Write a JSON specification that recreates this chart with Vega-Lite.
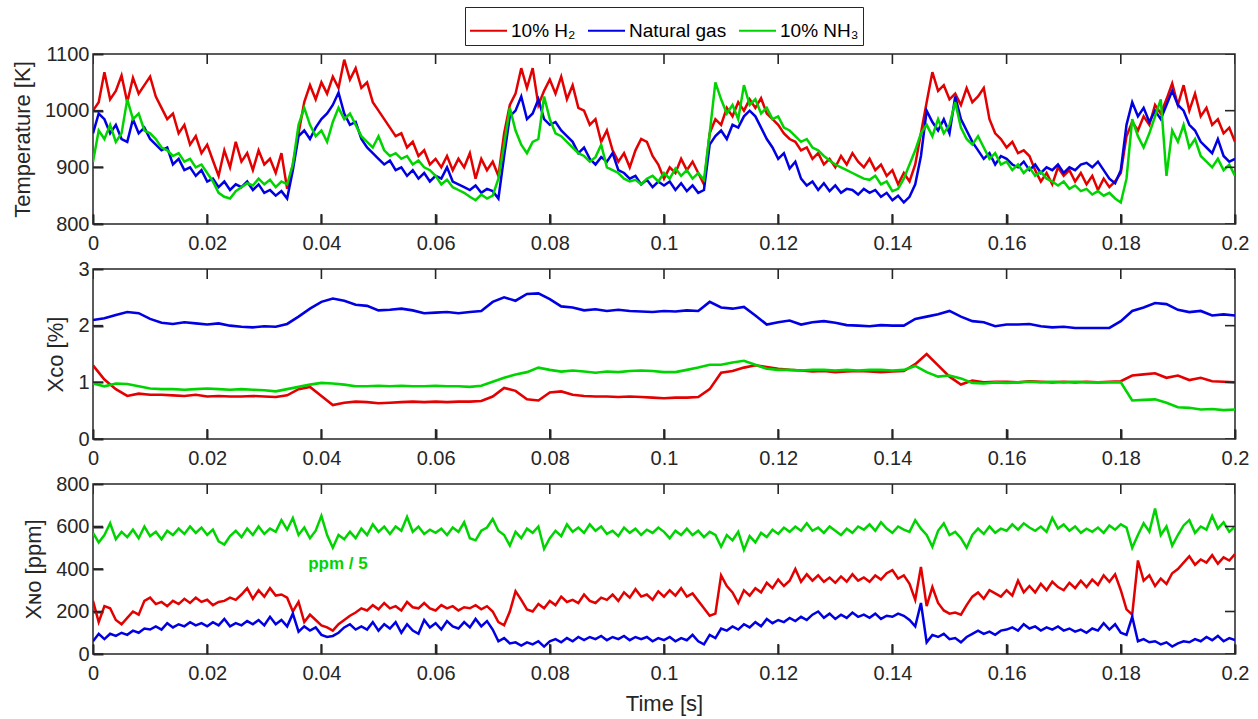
{
"$schema":"https://vega.github.io/schema/vega-lite/v6.json",
"padding":{"left":10,"top":6,"right":10,"bottom":5},
"spacing":4,
"config":{
 "font":"Liberation Sans",
 "view":{"stroke":"#262626","strokeWidth":1.5},
 "axis":{"zindex":1,"domain":false,"grid":false,"ticks":true,"tickColor":"#262626","tickSize":10,"tickWidth":2,"tickOpacity":1,"labelColor":"#262626","labelFontSize":20,"labelFont":"Liberation Sans","titleColor":"#262626","titleFontSize":22,"titleFontWeight":"normal","titleFont":"Liberation Sans","labelFlush":false,"labelBound":false,"labelOverlap":false},
 "legend":{"labelFont":"Liberation Sans","labelFontSize":19,"labelColor":"#000000"}
},
"datasets":{
"xt":[{"t":0},{"t":0.02},{"t":0.04},{"t":0.06},{"t":0.08},{"t":0.1},{"t":0.12},{"t":0.14},{"t":0.16},{"t":0.18},{"t":0.2}],
"yt1":[{"v":800},{"v":900},{"v":1000},{"v":1100}],
"yt2":[{"v":0},{"v":1},{"v":2},{"v":3}],
"yt3":[{"v":0},{"v":200},{"v":400},{"v":600},{"v":800}],
"temp":[
{"t":0,"h":1000,"n":960,"a":910},{"t":0.001,"h":1015,"n":995,"a":965},{"t":0.002,"h":1068,"n":985,"a":950},{"t":0.003,"h":1020,"n":960,"a":975},{"t":0.004,"h":1035,"n":975,"a":945},{"t":0.005,"h":1062,"n":950,"a":960},{"t":0.006,"h":1015,"n":945,"a":1020},{"t":0.007,"h":1058,"n":985,"a":985},{"t":0.008,"h":1030,"n":960,"a":995},{"t":0.009,"h":1045,"n":970,"a":965},
{"t":0.01,"h":1060,"n":950,"a":960},{"t":0.011,"h":1025,"n":940,"a":950},{"t":0.012,"h":1005,"n":930,"a":935},{"t":0.013,"h":985,"n":935,"a":930},{"t":0.014,"h":995,"n":905,"a":920},{"t":0.015,"h":960,"n":915,"a":925},{"t":0.016,"h":975,"n":895,"a":910},{"t":0.017,"h":940,"n":900,"a":915},{"t":0.018,"h":955,"n":885,"a":900},{"t":0.019,"h":925,"n":895,"a":905},
{"t":0.02,"h":940,"n":875,"a":890},{"t":0.021,"h":912,"n":880,"a":875},{"t":0.022,"h":885,"n":865,"a":855},{"t":0.023,"h":930,"n":875,"a":848},{"t":0.024,"h":900,"n":860,"a":845},{"t":0.025,"h":945,"n":870,"a":858},{"t":0.026,"h":910,"n":865,"a":865},{"t":0.027,"h":925,"n":875,"a":872},{"t":0.028,"h":895,"n":860,"a":868},{"t":0.029,"h":930,"n":870,"a":880},
{"t":0.03,"h":905,"n":855,"a":870},{"t":0.031,"h":915,"n":860,"a":878},{"t":0.032,"h":890,"n":850,"a":865},{"t":0.033,"h":925,"n":858,"a":875},{"t":0.034,"h":862,"n":845,"a":870},{"t":0.035,"h":905,"n":895,"a":905},{"t":0.036,"h":960,"n":955,"a":975},{"t":0.037,"h":1015,"n":965,"a":1005},{"t":0.038,"h":1045,"n":950,"a":975},{"t":0.039,"h":1020,"n":970,"a":955},
{"t":0.04,"h":1050,"n":985,"a":965},{"t":0.041,"h":1030,"n":995,"a":945},{"t":0.042,"h":1060,"n":1010,"a":980},{"t":0.043,"h":1040,"n":1032,"a":1005},{"t":0.044,"h":1090,"n":995,"a":985},{"t":0.045,"h":1055,"n":975,"a":995},{"t":0.046,"h":1075,"n":980,"a":975},{"t":0.047,"h":1040,"n":950,"a":955},{"t":0.048,"h":1050,"n":935,"a":945},{"t":0.049,"h":1015,"n":925,"a":935},
{"t":0.05,"h":1000,"n":915,"a":955},{"t":0.051,"h":985,"n":905,"a":930},{"t":0.052,"h":970,"n":912,"a":920},{"t":0.053,"h":955,"n":895,"a":925},{"t":0.054,"h":960,"n":900,"a":915},{"t":0.055,"h":935,"n":885,"a":920},{"t":0.056,"h":945,"n":895,"a":905},{"t":0.057,"h":920,"n":880,"a":912},{"t":0.058,"h":930,"n":890,"a":900},{"t":0.059,"h":905,"n":875,"a":895},
{"t":0.06,"h":915,"n":885,"a":885},{"t":0.061,"h":900,"n":880,"a":870},{"t":0.062,"h":920,"n":900,"a":878},{"t":0.063,"h":895,"n":875,"a":865},{"t":0.064,"h":915,"n":870,"a":860},{"t":0.065,"h":900,"n":865,"a":855},{"t":0.066,"h":925,"n":860,"a":848},{"t":0.067,"h":880,"n":868,"a":842},{"t":0.068,"h":915,"n":855,"a":852},{"t":0.069,"h":895,"n":862,"a":845},
{"t":0.07,"h":910,"n":858,"a":850},{"t":0.071,"h":885,"n":845,"a":880},{"t":0.072,"h":960,"n":920,"a":940},{"t":0.073,"h":1010,"n":990,"a":1005},{"t":0.074,"h":1030,"n":1000,"a":965},{"t":0.075,"h":1075,"n":1025,"a":940},{"t":0.076,"h":1040,"n":985,"a":925},{"t":0.077,"h":1075,"n":995,"a":945},{"t":0.078,"h":1010,"n":1020,"a":950},{"t":0.079,"h":1035,"n":985,"a":1025},
{"t":0.08,"h":1055,"n":975,"a":985},{"t":0.081,"h":1030,"n":980,"a":960},{"t":0.082,"h":1060,"n":965,"a":955},{"t":0.083,"h":1020,"n":955,"a":945},{"t":0.084,"h":1045,"n":945,"a":935},{"t":0.085,"h":1005,"n":925,"a":925},{"t":0.086,"h":1000,"n":935,"a":920},{"t":0.087,"h":975,"n":915,"a":910},{"t":0.088,"h":985,"n":905,"a":918},{"t":0.089,"h":945,"n":918,"a":940},
{"t":0.09,"h":965,"n":910,"a":900},{"t":0.091,"h":930,"n":925,"a":895},{"t":0.092,"h":910,"n":895,"a":890},{"t":0.093,"h":925,"n":890,"a":880},{"t":0.094,"h":900,"n":880,"a":875},{"t":0.095,"h":930,"n":885,"a":878},{"t":0.096,"h":950,"n":870,"a":870},{"t":0.097,"h":945,"n":878,"a":880},{"t":0.098,"h":920,"n":865,"a":885},{"t":0.099,"h":905,"n":875,"a":875},
{"t":0.1,"h":880,"n":868,"a":890},{"t":0.101,"h":900,"n":875,"a":880},{"t":0.102,"h":890,"n":860,"a":898},{"t":0.103,"h":915,"n":872,"a":885},{"t":0.104,"h":895,"n":858,"a":895},{"t":0.105,"h":910,"n":868,"a":880},{"t":0.106,"h":890,"n":855,"a":890},{"t":0.107,"h":870,"n":860,"a":878},{"t":0.108,"h":960,"n":940,"a":960},{"t":0.109,"h":985,"n":955,"a":1050},
{"t":0.11,"h":975,"n":965,"a":1020},{"t":0.111,"h":1005,"n":950,"a":995},{"t":0.112,"h":990,"n":975,"a":1010},{"t":0.113,"h":1015,"n":970,"a":985},{"t":0.114,"h":1000,"n":990,"a":1045},{"t":0.115,"h":1020,"n":1000,"a":1010},{"t":0.116,"h":1005,"n":990,"a":1020},{"t":0.117,"h":1022,"n":970,"a":995},{"t":0.118,"h":995,"n":950,"a":1005},{"t":0.119,"h":985,"n":935,"a":985},
{"t":0.12,"h":975,"n":915,"a":990},{"t":0.121,"h":960,"n":925,"a":970},{"t":0.122,"h":950,"n":898,"a":965},{"t":0.123,"h":945,"n":910,"a":955},{"t":0.124,"h":930,"n":880,"a":945},{"t":0.125,"h":935,"n":868,"a":950},{"t":0.126,"h":915,"n":875,"a":935},{"t":0.127,"h":925,"n":860,"a":930},{"t":0.128,"h":905,"n":872,"a":920},{"t":0.129,"h":915,"n":858,"a":912},
{"t":0.13,"h":900,"n":868,"a":905},{"t":0.131,"h":920,"n":855,"a":900},{"t":0.132,"h":905,"n":862,"a":895},{"t":0.133,"h":925,"n":860,"a":890},{"t":0.134,"h":910,"n":852,"a":885},{"t":0.135,"h":900,"n":862,"a":880},{"t":0.136,"h":915,"n":855,"a":878},{"t":0.137,"h":895,"n":860,"a":885},{"t":0.138,"h":905,"n":848,"a":870},{"t":0.139,"h":885,"n":855,"a":875},
{"t":0.14,"h":895,"n":842,"a":858},{"t":0.141,"h":870,"n":850,"a":862},{"t":0.142,"h":890,"n":838,"a":880},{"t":0.143,"h":875,"n":848,"a":905},{"t":0.144,"h":905,"n":870,"a":930},{"t":0.145,"h":960,"n":920,"a":960},{"t":0.146,"h":1015,"n":1000,"a":975},{"t":0.147,"h":1068,"n":980,"a":955},{"t":0.148,"h":1035,"n":965,"a":985},{"t":0.149,"h":1045,"n":985,"a":960},
{"t":0.15,"h":1020,"n":960,"a":975},{"t":0.151,"h":1030,"n":1025,"a":1015},{"t":0.152,"h":1010,"n":985,"a":970},{"t":0.153,"h":1040,"n":965,"a":950},{"t":0.154,"h":1015,"n":945,"a":940},{"t":0.155,"h":1025,"n":930,"a":955},{"t":0.156,"h":1040,"n":915,"a":935},{"t":0.157,"h":985,"n":925,"a":915},{"t":0.158,"h":960,"n":905,"a":925},{"t":0.159,"h":950,"n":920,"a":905},
{"t":0.16,"h":935,"n":915,"a":910},{"t":0.161,"h":945,"n":905,"a":895},{"t":0.162,"h":925,"n":900,"a":905},{"t":0.163,"h":930,"n":910,"a":890},{"t":0.164,"h":920,"n":895,"a":900},{"t":0.165,"h":895,"n":905,"a":885},{"t":0.166,"h":875,"n":890,"a":892},{"t":0.167,"h":890,"n":900,"a":880},{"t":0.168,"h":870,"n":895,"a":875},{"t":0.169,"h":900,"n":905,"a":868},
{"t":0.17,"h":885,"n":890,"a":875},{"t":0.171,"h":895,"n":900,"a":862},{"t":0.172,"h":875,"n":895,"a":868},{"t":0.173,"h":890,"n":905,"a":858},{"t":0.174,"h":870,"n":908,"a":862},{"t":0.175,"h":885,"n":900,"a":852},{"t":0.176,"h":860,"n":910,"a":858},{"t":0.177,"h":880,"n":895,"a":850},{"t":0.178,"h":865,"n":880,"a":855},{"t":0.179,"h":875,"n":872,"a":845},
{"t":0.18,"h":890,"n":895,"a":838},{"t":0.181,"h":955,"n":975,"a":880},{"t":0.182,"h":980,"n":1015,"a":985},{"t":0.183,"h":965,"n":990,"a":955},{"t":0.184,"h":990,"n":1005,"a":935},{"t":0.185,"h":975,"n":980,"a":960},{"t":0.186,"h":1010,"n":1000,"a":990},{"t":0.187,"h":995,"n":985,"a":1020},{"t":0.188,"h":1020,"n":1010,"a":885},{"t":0.189,"h":1048,"n":1035,"a":965},
{"t":0.19,"h":1010,"n":1010,"a":945},{"t":0.191,"h":1045,"n":1000,"a":975},{"t":0.192,"h":1000,"n":975,"a":935},{"t":0.193,"h":1030,"n":965,"a":950},{"t":0.194,"h":990,"n":945,"a":920},{"t":0.195,"h":1005,"n":935,"a":910},{"t":0.196,"h":975,"n":925,"a":900},{"t":0.197,"h":985,"n":950,"a":915},{"t":0.198,"h":960,"n":920,"a":895},{"t":0.199,"h":970,"n":910,"a":905},
{"t":0.2,"h":945,"n":915,"a":885}
],
"co":[
{"t":0,"h":1.30,"n":2.10,"a":0.98},{"t":0.002,"h":1.05,"n":2.13,"a":0.93},{"t":0.004,"h":0.88,"n":2.19,"a":0.98},{"t":0.006,"h":0.76,"n":2.24,"a":0.97},{"t":0.008,"h":0.80,"n":2.22,"a":0.93},{"t":0.01,"h":0.78,"n":2.12,"a":0.89},{"t":0.012,"h":0.78,"n":2.05,"a":0.88},{"t":0.014,"h":0.77,"n":2.03,"a":0.88},{"t":0.016,"h":0.76,"n":2.06,"a":0.87},{"t":0.018,"h":0.78,"n":2.04,"a":0.88},
{"t":0.02,"h":0.75,"n":2.02,"a":0.89},{"t":0.022,"h":0.76,"n":2.04,"a":0.88},{"t":0.024,"h":0.75,"n":2.00,"a":0.87},{"t":0.026,"h":0.75,"n":1.98,"a":0.88},{"t":0.028,"h":0.76,"n":1.97,"a":0.87},{"t":0.03,"h":0.75,"n":1.99,"a":0.86},{"t":0.032,"h":0.74,"n":1.98,"a":0.84},{"t":0.034,"h":0.77,"n":2.03,"a":0.88},{"t":0.036,"h":0.88,"n":2.16,"a":0.92},{"t":0.038,"h":0.92,"n":2.30,"a":0.96},
{"t":0.04,"h":0.76,"n":2.42,"a":0.99},{"t":0.042,"h":0.60,"n":2.48,"a":0.98},{"t":0.044,"h":0.64,"n":2.44,"a":0.96},{"t":0.046,"h":0.66,"n":2.37,"a":0.93},{"t":0.048,"h":0.65,"n":2.35,"a":0.93},{"t":0.05,"h":0.63,"n":2.27,"a":0.94},{"t":0.052,"h":0.64,"n":2.28,"a":0.93},{"t":0.054,"h":0.65,"n":2.30,"a":0.94},{"t":0.056,"h":0.66,"n":2.27,"a":0.93},{"t":0.058,"h":0.65,"n":2.22,"a":0.93},
{"t":0.06,"h":0.66,"n":2.23,"a":0.94},{"t":0.062,"h":0.65,"n":2.24,"a":0.93},{"t":0.064,"h":0.66,"n":2.22,"a":0.93},{"t":0.066,"h":0.66,"n":2.24,"a":0.92},{"t":0.068,"h":0.67,"n":2.26,"a":0.94},{"t":0.07,"h":0.75,"n":2.42,"a":1.01},{"t":0.072,"h":0.90,"n":2.50,"a":1.08},{"t":0.074,"h":0.85,"n":2.44,"a":1.14},{"t":0.076,"h":0.70,"n":2.56,"a":1.18},{"t":0.078,"h":0.68,"n":2.57,"a":1.26},
{"t":0.08,"h":0.82,"n":2.47,"a":1.22},{"t":0.082,"h":0.84,"n":2.34,"a":1.19},{"t":0.084,"h":0.78,"n":2.32,"a":1.21},{"t":0.086,"h":0.76,"n":2.27,"a":1.19},{"t":0.088,"h":0.75,"n":2.29,"a":1.17},{"t":0.09,"h":0.75,"n":2.26,"a":1.19},{"t":0.092,"h":0.74,"n":2.28,"a":1.18},{"t":0.094,"h":0.75,"n":2.26,"a":1.20},{"t":0.096,"h":0.74,"n":2.25,"a":1.21},{"t":0.098,"h":0.73,"n":2.24,"a":1.20},
{"t":0.1,"h":0.72,"n":2.26,"a":1.18},{"t":0.102,"h":0.73,"n":2.25,"a":1.18},{"t":0.104,"h":0.73,"n":2.27,"a":1.22},{"t":0.106,"h":0.74,"n":2.26,"a":1.26},{"t":0.108,"h":0.88,"n":2.42,"a":1.31},{"t":0.11,"h":1.17,"n":2.32,"a":1.31},{"t":0.112,"h":1.20,"n":2.30,"a":1.35},{"t":0.114,"h":1.26,"n":2.33,"a":1.38},{"t":0.116,"h":1.30,"n":2.18,"a":1.31},{"t":0.118,"h":1.27,"n":2.02,"a":1.24},
{"t":0.12,"h":1.24,"n":2.06,"a":1.22},{"t":0.122,"h":1.22,"n":2.09,"a":1.22},{"t":0.124,"h":1.21,"n":2.02,"a":1.21},{"t":0.126,"h":1.19,"n":2.06,"a":1.22},{"t":0.128,"h":1.20,"n":2.08,"a":1.22},{"t":0.13,"h":1.18,"n":2.05,"a":1.21},{"t":0.132,"h":1.19,"n":2.01,"a":1.22},{"t":0.134,"h":1.20,"n":2.00,"a":1.21},{"t":0.136,"h":1.19,"n":1.99,"a":1.22},{"t":0.138,"h":1.18,"n":2.01,"a":1.22},
{"t":0.14,"h":1.19,"n":2.00,"a":1.21},{"t":0.142,"h":1.20,"n":2.00,"a":1.22},{"t":0.144,"h":1.32,"n":2.12,"a":1.29},{"t":0.146,"h":1.50,"n":2.16,"a":1.18},{"t":0.148,"h":1.30,"n":2.20,"a":1.10},{"t":0.15,"h":1.10,"n":2.26,"a":1.12},{"t":0.152,"h":0.96,"n":2.16,"a":1.07},{"t":0.154,"h":1.03,"n":2.08,"a":0.99},{"t":0.156,"h":1.00,"n":2.06,"a":0.98},{"t":0.158,"h":1.01,"n":1.99,"a":1.00},
{"t":0.16,"h":1.01,"n":2.02,"a":0.99},{"t":0.162,"h":1.00,"n":2.02,"a":1.00},{"t":0.164,"h":1.02,"n":2.03,"a":1.01},{"t":0.166,"h":1.01,"n":1.99,"a":1.00},{"t":0.168,"h":1.00,"n":1.97,"a":1.01},{"t":0.17,"h":1.01,"n":1.98,"a":1.00},{"t":0.172,"h":1.00,"n":1.96,"a":1.01},{"t":0.174,"h":1.01,"n":1.96,"a":1.00},{"t":0.176,"h":1.00,"n":1.96,"a":1.00},{"t":0.178,"h":1.01,"n":1.96,"a":1.00},
{"t":0.18,"h":1.02,"n":2.08,"a":1.00},{"t":0.182,"h":1.12,"n":2.26,"a":0.68},{"t":0.184,"h":1.14,"n":2.32,"a":0.69},{"t":0.186,"h":1.16,"n":2.40,"a":0.70},{"t":0.188,"h":1.08,"n":2.38,"a":0.64},{"t":0.19,"h":1.12,"n":2.28,"a":0.56},{"t":0.192,"h":1.04,"n":2.24,"a":0.55},{"t":0.194,"h":1.08,"n":2.26,"a":0.52},{"t":0.196,"h":1.02,"n":2.18,"a":0.53},{"t":0.198,"h":1.01,"n":2.20,"a":0.51},
{"t":0.2,"h":1.00,"n":2.18,"a":0.52}
],
"no":[
{"t":0,"h":250,"n":60,"a":570},{"t":0.001,"h":150,"n":95,"a":525},{"t":0.002,"h":225,"n":70,"a":560},{"t":0.003,"h":215,"n":95,"a":615},{"t":0.004,"h":160,"n":85,"a":540},{"t":0.005,"h":140,"n":100,"a":575},{"t":0.006,"h":170,"n":90,"a":550},{"t":0.007,"h":200,"n":110,"a":585},{"t":0.008,"h":185,"n":100,"a":545},{"t":0.009,"h":250,"n":120,"a":600},
{"t":0.01,"h":265,"n":115,"a":555},{"t":0.011,"h":235,"n":130,"a":575},{"t":0.012,"h":245,"n":115,"a":540},{"t":0.013,"h":225,"n":145,"a":580},{"t":0.014,"h":250,"n":125,"a":560},{"t":0.015,"h":235,"n":140,"a":590},{"t":0.016,"h":260,"n":130,"a":565},{"t":0.017,"h":240,"n":150,"a":600},{"t":0.018,"h":265,"n":135,"a":570},{"t":0.019,"h":245,"n":145,"a":595},
{"t":0.02,"h":255,"n":130,"a":560},{"t":0.021,"h":230,"n":150,"a":585},{"t":0.022,"h":245,"n":135,"a":530},{"t":0.023,"h":250,"n":165,"a":515},{"t":0.024,"h":265,"n":130,"a":555},{"t":0.025,"h":255,"n":145,"a":580},{"t":0.026,"h":280,"n":135,"a":550},{"t":0.027,"h":310,"n":155,"a":590},{"t":0.028,"h":260,"n":140,"a":560},{"t":0.029,"h":300,"n":160,"a":600},
{"t":0.03,"h":270,"n":135,"a":565},{"t":0.031,"h":310,"n":175,"a":590},{"t":0.032,"h":275,"n":140,"a":575},{"t":0.033,"h":280,"n":160,"a":630},{"t":0.034,"h":265,"n":130,"a":585},{"t":0.035,"h":200,"n":190,"a":640},{"t":0.036,"h":245,"n":105,"a":560},{"t":0.037,"h":150,"n":130,"a":595},{"t":0.038,"h":185,"n":110,"a":545},{"t":0.039,"h":160,"n":125,"a":580},
{"t":0.04,"h":135,"n":90,"a":650},{"t":0.041,"h":125,"n":80,"a":560},{"t":0.042,"h":110,"n":85,"a":500},{"t":0.043,"h":140,"n":100,"a":560},{"t":0.044,"h":160,"n":125,"a":540},{"t":0.045,"h":180,"n":140,"a":575},{"t":0.046,"h":195,"n":115,"a":545},{"t":0.047,"h":215,"n":130,"a":590},{"t":0.048,"h":205,"n":115,"a":560},{"t":0.049,"h":230,"n":150,"a":610},
{"t":0.05,"h":210,"n":110,"a":575},{"t":0.051,"h":240,"n":140,"a":600},{"t":0.052,"h":215,"n":120,"a":565},{"t":0.053,"h":225,"n":150,"a":600},{"t":0.054,"h":205,"n":100,"a":580},{"t":0.055,"h":245,"n":140,"a":645},{"t":0.056,"h":220,"n":110,"a":575},{"t":0.057,"h":215,"n":95,"a":600},{"t":0.058,"h":240,"n":160,"a":565},{"t":0.059,"h":215,"n":125,"a":585},
{"t":0.06,"h":205,"n":145,"a":570},{"t":0.061,"h":230,"n":115,"a":590},{"t":0.062,"h":215,"n":155,"a":560},{"t":0.063,"h":225,"n":130,"a":595},{"t":0.064,"h":205,"n":120,"a":575},{"t":0.065,"h":220,"n":150,"a":620},{"t":0.066,"h":215,"n":125,"a":545},{"t":0.067,"h":230,"n":165,"a":535},{"t":0.068,"h":210,"n":130,"a":580},{"t":0.069,"h":225,"n":155,"a":595},
{"t":0.07,"h":200,"n":115,"a":635},{"t":0.071,"h":150,"n":60,"a":580},{"t":0.072,"h":135,"n":75,"a":560},{"t":0.073,"h":200,"n":50,"a":510},{"t":0.074,"h":295,"n":55,"a":575},{"t":0.075,"h":255,"n":40,"a":545},{"t":0.076,"h":210,"n":55,"a":590},{"t":0.077,"h":200,"n":45,"a":570},{"t":0.078,"h":235,"n":60,"a":600},{"t":0.079,"h":215,"n":35,"a":495},
{"t":0.08,"h":250,"n":60,"a":545},{"t":0.081,"h":230,"n":70,"a":580},{"t":0.082,"h":270,"n":55,"a":555},{"t":0.083,"h":245,"n":75,"a":610},{"t":0.084,"h":255,"n":60,"a":575},{"t":0.085,"h":240,"n":80,"a":595},{"t":0.086,"h":280,"n":65,"a":570},{"t":0.087,"h":250,"n":80,"a":610},{"t":0.088,"h":240,"n":70,"a":580},{"t":0.089,"h":265,"n":85,"a":600},
{"t":0.09,"h":255,"n":65,"a":565},{"t":0.091,"h":280,"n":80,"a":580},{"t":0.092,"h":250,"n":70,"a":555},{"t":0.093,"h":290,"n":85,"a":595},{"t":0.094,"h":265,"n":65,"a":570},{"t":0.095,"h":305,"n":80,"a":590},{"t":0.096,"h":270,"n":70,"a":560},{"t":0.097,"h":280,"n":80,"a":585},{"t":0.098,"h":255,"n":60,"a":570},{"t":0.099,"h":295,"n":75,"a":595},
{"t":0.1,"h":270,"n":65,"a":575},{"t":0.101,"h":300,"n":80,"a":545},{"t":0.102,"h":275,"n":60,"a":580},{"t":0.103,"h":310,"n":75,"a":560},{"t":0.104,"h":270,"n":65,"a":590},{"t":0.105,"h":285,"n":90,"a":560},{"t":0.106,"h":250,"n":60,"a":580},{"t":0.107,"h":215,"n":45,"a":550},{"t":0.108,"h":180,"n":90,"a":575},{"t":0.109,"h":190,"n":75,"a":560},
{"t":0.11,"h":370,"n":120,"a":505},{"t":0.111,"h":320,"n":110,"a":560},{"t":0.112,"h":290,"n":130,"a":535},{"t":0.113,"h":240,"n":115,"a":575},{"t":0.114,"h":300,"n":140,"a":490},{"t":0.115,"h":275,"n":125,"a":555},{"t":0.116,"h":310,"n":150,"a":525},{"t":0.117,"h":290,"n":130,"a":570},{"t":0.118,"h":335,"n":165,"a":550},{"t":0.119,"h":310,"n":145,"a":585},
{"t":0.12,"h":350,"n":160,"a":565},{"t":0.121,"h":320,"n":150,"a":595},{"t":0.122,"h":345,"n":170,"a":575},{"t":0.123,"h":400,"n":155,"a":600},{"t":0.124,"h":340,"n":175,"a":580},{"t":0.125,"h":375,"n":160,"a":615},{"t":0.126,"h":345,"n":185,"a":580},{"t":0.127,"h":370,"n":200,"a":595},{"t":0.128,"h":340,"n":170,"a":570},{"t":0.129,"h":360,"n":190,"a":600},
{"t":0.13,"h":335,"n":165,"a":580},{"t":0.131,"h":365,"n":185,"a":560},{"t":0.132,"h":340,"n":170,"a":590},{"t":0.133,"h":375,"n":195,"a":570},{"t":0.134,"h":345,"n":175,"a":600},{"t":0.135,"h":360,"n":185,"a":585},{"t":0.136,"h":340,"n":170,"a":610},{"t":0.137,"h":370,"n":190,"a":580},{"t":0.138,"h":350,"n":165,"a":620},{"t":0.139,"h":380,"n":180,"a":590},
{"t":0.14,"h":395,"n":175,"a":570},{"t":0.141,"h":355,"n":190,"a":600},{"t":0.142,"h":370,"n":180,"a":585},{"t":0.143,"h":330,"n":160,"a":575},{"t":0.144,"h":255,"n":130,"a":630},{"t":0.145,"h":410,"n":240,"a":590},{"t":0.146,"h":225,"n":55,"a":560},{"t":0.147,"h":315,"n":90,"a":505},{"t":0.148,"h":240,"n":80,"a":580},{"t":0.149,"h":205,"n":95,"a":615},
{"t":0.15,"h":190,"n":70,"a":560},{"t":0.151,"h":195,"n":75,"a":575},{"t":0.152,"h":185,"n":55,"a":545},{"t":0.153,"h":230,"n":80,"a":500},{"t":0.154,"h":270,"n":95,"a":560},{"t":0.155,"h":290,"n":110,"a":590},{"t":0.156,"h":260,"n":95,"a":565},{"t":0.157,"h":300,"n":105,"a":600},{"t":0.158,"h":285,"n":90,"a":570},{"t":0.159,"h":270,"n":110,"a":590},
{"t":0.16,"h":300,"n":115,"a":580},{"t":0.161,"h":275,"n":125,"a":610},{"t":0.162,"h":345,"n":110,"a":585},{"t":0.163,"h":290,"n":140,"a":615},{"t":0.164,"h":320,"n":120,"a":595},{"t":0.165,"h":290,"n":130,"a":580},{"t":0.166,"h":330,"n":110,"a":600},{"t":0.167,"h":300,"n":125,"a":575},{"t":0.168,"h":340,"n":115,"a":640},{"t":0.169,"h":315,"n":130,"a":590},
{"t":0.17,"h":300,"n":110,"a":610},{"t":0.171,"h":335,"n":120,"a":580},{"t":0.172,"h":310,"n":105,"a":600},{"t":0.173,"h":345,"n":115,"a":570},{"t":0.174,"h":315,"n":100,"a":590},{"t":0.175,"h":350,"n":120,"a":575},{"t":0.176,"h":325,"n":110,"a":595},{"t":0.177,"h":370,"n":145,"a":570},{"t":0.178,"h":340,"n":115,"a":605},{"t":0.179,"h":375,"n":140,"a":585},
{"t":0.18,"h":300,"n":100,"a":610},{"t":0.181,"h":210,"n":90,"a":595},{"t":0.182,"h":185,"n":175,"a":500},{"t":0.183,"h":440,"n":60,"a":560},{"t":0.184,"h":345,"n":70,"a":615},{"t":0.185,"h":370,"n":55,"a":575},{"t":0.186,"h":320,"n":60,"a":685},{"t":0.187,"h":355,"n":45,"a":560},{"t":0.188,"h":330,"n":55,"a":600},{"t":0.189,"h":380,"n":35,"a":510},
{"t":0.19,"h":400,"n":50,"a":560},{"t":0.191,"h":430,"n":60,"a":605},{"t":0.192,"h":460,"n":55,"a":630},{"t":0.193,"h":420,"n":70,"a":570},{"t":0.194,"h":445,"n":60,"a":600},{"t":0.195,"h":430,"n":80,"a":585},{"t":0.196,"h":465,"n":65,"a":650},{"t":0.197,"h":425,"n":85,"a":590},{"t":0.198,"h":455,"n":60,"a":620},{"t":0.199,"h":440,"n":75,"a":575},
{"t":0.2,"h":470,"n":65,"a":600}
],
"ann":[{"t":0.0429,"v":423,"label":"ppm / 5"}]
},
"vconcat":[
{"width":1142,"height":170,
 "layer":[
  {"data":{"name":"temp"},"transform":[{"fold":["h","n","a"],"as":["s","v"]}],
   "mark":{"type":"line","strokeWidth":2.5,"clip":true},
   "encoding":{
    "x":{"field":"t","type":"quantitative","scale":{"domain":[0,0.2],"nice":false,"zero":false},"axis":{"orient":"bottom","offset":-10,"values":[0,0.02,0.04,0.06,0.08,0.1,0.12,0.14,0.16,0.18,0.2],"format":"~g","title":null,"labelPadding":9}},
    "y":{"field":"v","type":"quantitative","scale":{"domain":[800,1100],"nice":false,"zero":false},"axis":{"orient":"left","offset":-10,"values":[800,900,1000,1100],"format":"d","title":"Temperature [K]","labelPadding":4,"titlePadding":10}},
    "color":{"field":"s","type":"nominal","scale":{"domain":["h","n","a"],"range":["#e30000","#0000e3","#00d400"]},
      "legend":{"orient":"none","legendX":372,"legendY":-47,"direction":"horizontal","title":null,"symbolType":"stroke","symbolSize":1369,"symbolStrokeWidth":2,"labelOffset":3,"columnPadding":8,"padding":4,"strokeColor":"#262626","fillColor":"#ffffff","labelExpr":"datum.label == 'h' ? '10% H₂' : datum.label == 'n' ? 'Natural gas' : '10% NH₃'"}}
   }},
  {"data":{"name":"xt"},"mark":{"type":"tick","orient":"vertical","size":20,"thickness":1.6,"color":"#262626","opacity":1,"clip":true},
   "encoding":{"x":{"field":"t","type":"quantitative","axis":null},"y":{"datum":800,"type":"quantitative","axis":null}}},
  {"data":{"name":"xt"},"mark":{"type":"tick","orient":"vertical","size":20,"thickness":1.6,"color":"#262626","opacity":1,"clip":true},
   "encoding":{"x":{"field":"t","type":"quantitative","axis":null},"y":{"datum":1100,"type":"quantitative","axis":null}}},
  {"data":{"name":"yt1"},"mark":{"type":"tick","orient":"horizontal","size":20,"thickness":1.6,"color":"#262626","opacity":1,"clip":true},
   "encoding":{"y":{"field":"v","type":"quantitative","axis":null},"x":{"datum":0,"type":"quantitative","axis":null}}},
  {"data":{"name":"yt1"},"mark":{"type":"tick","orient":"horizontal","size":20,"thickness":1.6,"color":"#262626","opacity":1,"clip":true},
   "encoding":{"y":{"field":"v","type":"quantitative","axis":null},"x":{"datum":0.2,"type":"quantitative","axis":null}}}
 ],
 "resolve":{"axis":{"x":"independent","y":"independent"}}
},
{"width":1142,"height":170,
 "layer":[
  {"data":{"name":"co"},"transform":[{"fold":["h","n","a"],"as":["s","v"]}],
   "mark":{"type":"line","strokeWidth":2.6,"clip":true},
   "encoding":{
    "x":{"field":"t","type":"quantitative","scale":{"domain":[0,0.2],"nice":false,"zero":false},"axis":{"orient":"bottom","offset":-10,"values":[0,0.02,0.04,0.06,0.08,0.1,0.12,0.14,0.16,0.18,0.2],"format":"~g","title":null,"labelPadding":9}},
    "y":{"field":"v","type":"quantitative","scale":{"domain":[0,3],"nice":false},"axis":{"orient":"left","offset":-10,"values":[0,1,2,3],"format":"d","title":"Xᴄᴏ [%]","labelPadding":4,"titlePadding":10}},
    "color":{"field":"s","type":"nominal","scale":{"domain":["h","n","a"],"range":["#e30000","#0000e3","#00d400"]},
      "legend":{"orient":"none","legendX":372,"legendY":-47,"direction":"horizontal","title":null,"symbolType":"stroke","symbolSize":1369,"symbolStrokeWidth":2,"labelOffset":3,"columnPadding":8,"padding":4,"strokeColor":"#262626","fillColor":"#ffffff","labelExpr":"datum.label == 'h' ? '10% H₂' : datum.label == 'n' ? 'Natural gas' : '10% NH₃'"}}
   }},
  {"data":{"name":"xt"},"mark":{"type":"tick","orient":"vertical","size":20,"thickness":1.6,"color":"#262626","opacity":1,"clip":true},
   "encoding":{"x":{"field":"t","type":"quantitative","axis":null},"y":{"datum":0,"type":"quantitative","axis":null}}},
  {"data":{"name":"xt"},"mark":{"type":"tick","orient":"vertical","size":20,"thickness":1.6,"color":"#262626","opacity":1,"clip":true},
   "encoding":{"x":{"field":"t","type":"quantitative","axis":null},"y":{"datum":3,"type":"quantitative","axis":null}}},
  {"data":{"name":"yt2"},"mark":{"type":"tick","orient":"horizontal","size":20,"thickness":1.6,"color":"#262626","opacity":1,"clip":true},
   "encoding":{"y":{"field":"v","type":"quantitative","axis":null},"x":{"datum":0,"type":"quantitative","axis":null}}},
  {"data":{"name":"yt2"},"mark":{"type":"tick","orient":"horizontal","size":20,"thickness":1.6,"color":"#262626","opacity":1,"clip":true},
   "encoding":{"y":{"field":"v","type":"quantitative","axis":null},"x":{"datum":0.2,"type":"quantitative","axis":null}}}
 ],
 "resolve":{"axis":{"x":"independent","y":"independent"}}
},
{"width":1142,"height":170,
 "layer":[
  {"data":{"name":"no"},"transform":[{"fold":["h","n","a"],"as":["s","v"]}],
   "mark":{"type":"line","strokeWidth":2.5,"clip":true},
   "encoding":{
    "x":{"field":"t","type":"quantitative","scale":{"domain":[0,0.2],"nice":false,"zero":false},"axis":{"orient":"bottom","offset":-10,"values":[0,0.02,0.04,0.06,0.08,0.1,0.12,0.14,0.16,0.18,0.2],"format":"~g","title":"Time [s]","labelPadding":9,"titlePadding":10}},
    "y":{"field":"v","type":"quantitative","scale":{"domain":[0,800],"nice":false},"axis":{"orient":"left","offset":-10,"values":[0,200,400,600,800],"format":"d","title":"Xɴᴏ [ppm]","labelPadding":4,"titlePadding":10}},
    "color":{"field":"s","type":"nominal","scale":{"domain":["h","n","a"],"range":["#e30000","#0000e3","#00d400"]},
      "legend":{"orient":"none","legendX":372,"legendY":-47,"direction":"horizontal","title":null,"symbolType":"stroke","symbolSize":1369,"symbolStrokeWidth":2,"labelOffset":3,"columnPadding":8,"padding":4,"strokeColor":"#262626","fillColor":"#ffffff","labelExpr":"datum.label == 'h' ? '10% H₂' : datum.label == 'n' ? 'Natural gas' : '10% NH₃'"}}
   }},
  {"data":{"name":"xt"},"mark":{"type":"tick","orient":"vertical","size":20,"thickness":1.6,"color":"#262626","opacity":1,"clip":true},
   "encoding":{"x":{"field":"t","type":"quantitative","axis":null},"y":{"datum":0,"type":"quantitative","axis":null}}},
  {"data":{"name":"xt"},"mark":{"type":"tick","orient":"vertical","size":20,"thickness":1.6,"color":"#262626","opacity":1,"clip":true},
   "encoding":{"x":{"field":"t","type":"quantitative","axis":null},"y":{"datum":800,"type":"quantitative","axis":null}}},
  {"data":{"name":"yt3"},"mark":{"type":"tick","orient":"horizontal","size":20,"thickness":1.6,"color":"#262626","opacity":1,"clip":true},
   "encoding":{"y":{"field":"v","type":"quantitative","axis":null},"x":{"datum":0,"type":"quantitative","axis":null}}},
  {"data":{"name":"yt3"},"mark":{"type":"tick","orient":"horizontal","size":20,"thickness":1.6,"color":"#262626","opacity":1,"clip":true},
   "encoding":{"y":{"field":"v","type":"quantitative","axis":null},"x":{"datum":0.2,"type":"quantitative","axis":null}}},
  {"data":{"name":"ann"},"mark":{"type":"text","color":"#00d400","fontWeight":"bold","fontSize":17,"align":"center","baseline":"middle","font":"Liberation Sans"},
   "encoding":{
    "x":{"field":"t","type":"quantitative","axis":null},
    "y":{"field":"v","type":"quantitative","axis":null},
    "text":{"field":"label"}
   }}
 ],
 "resolve":{"axis":{"x":"independent","y":"independent"}}
}
]
}
